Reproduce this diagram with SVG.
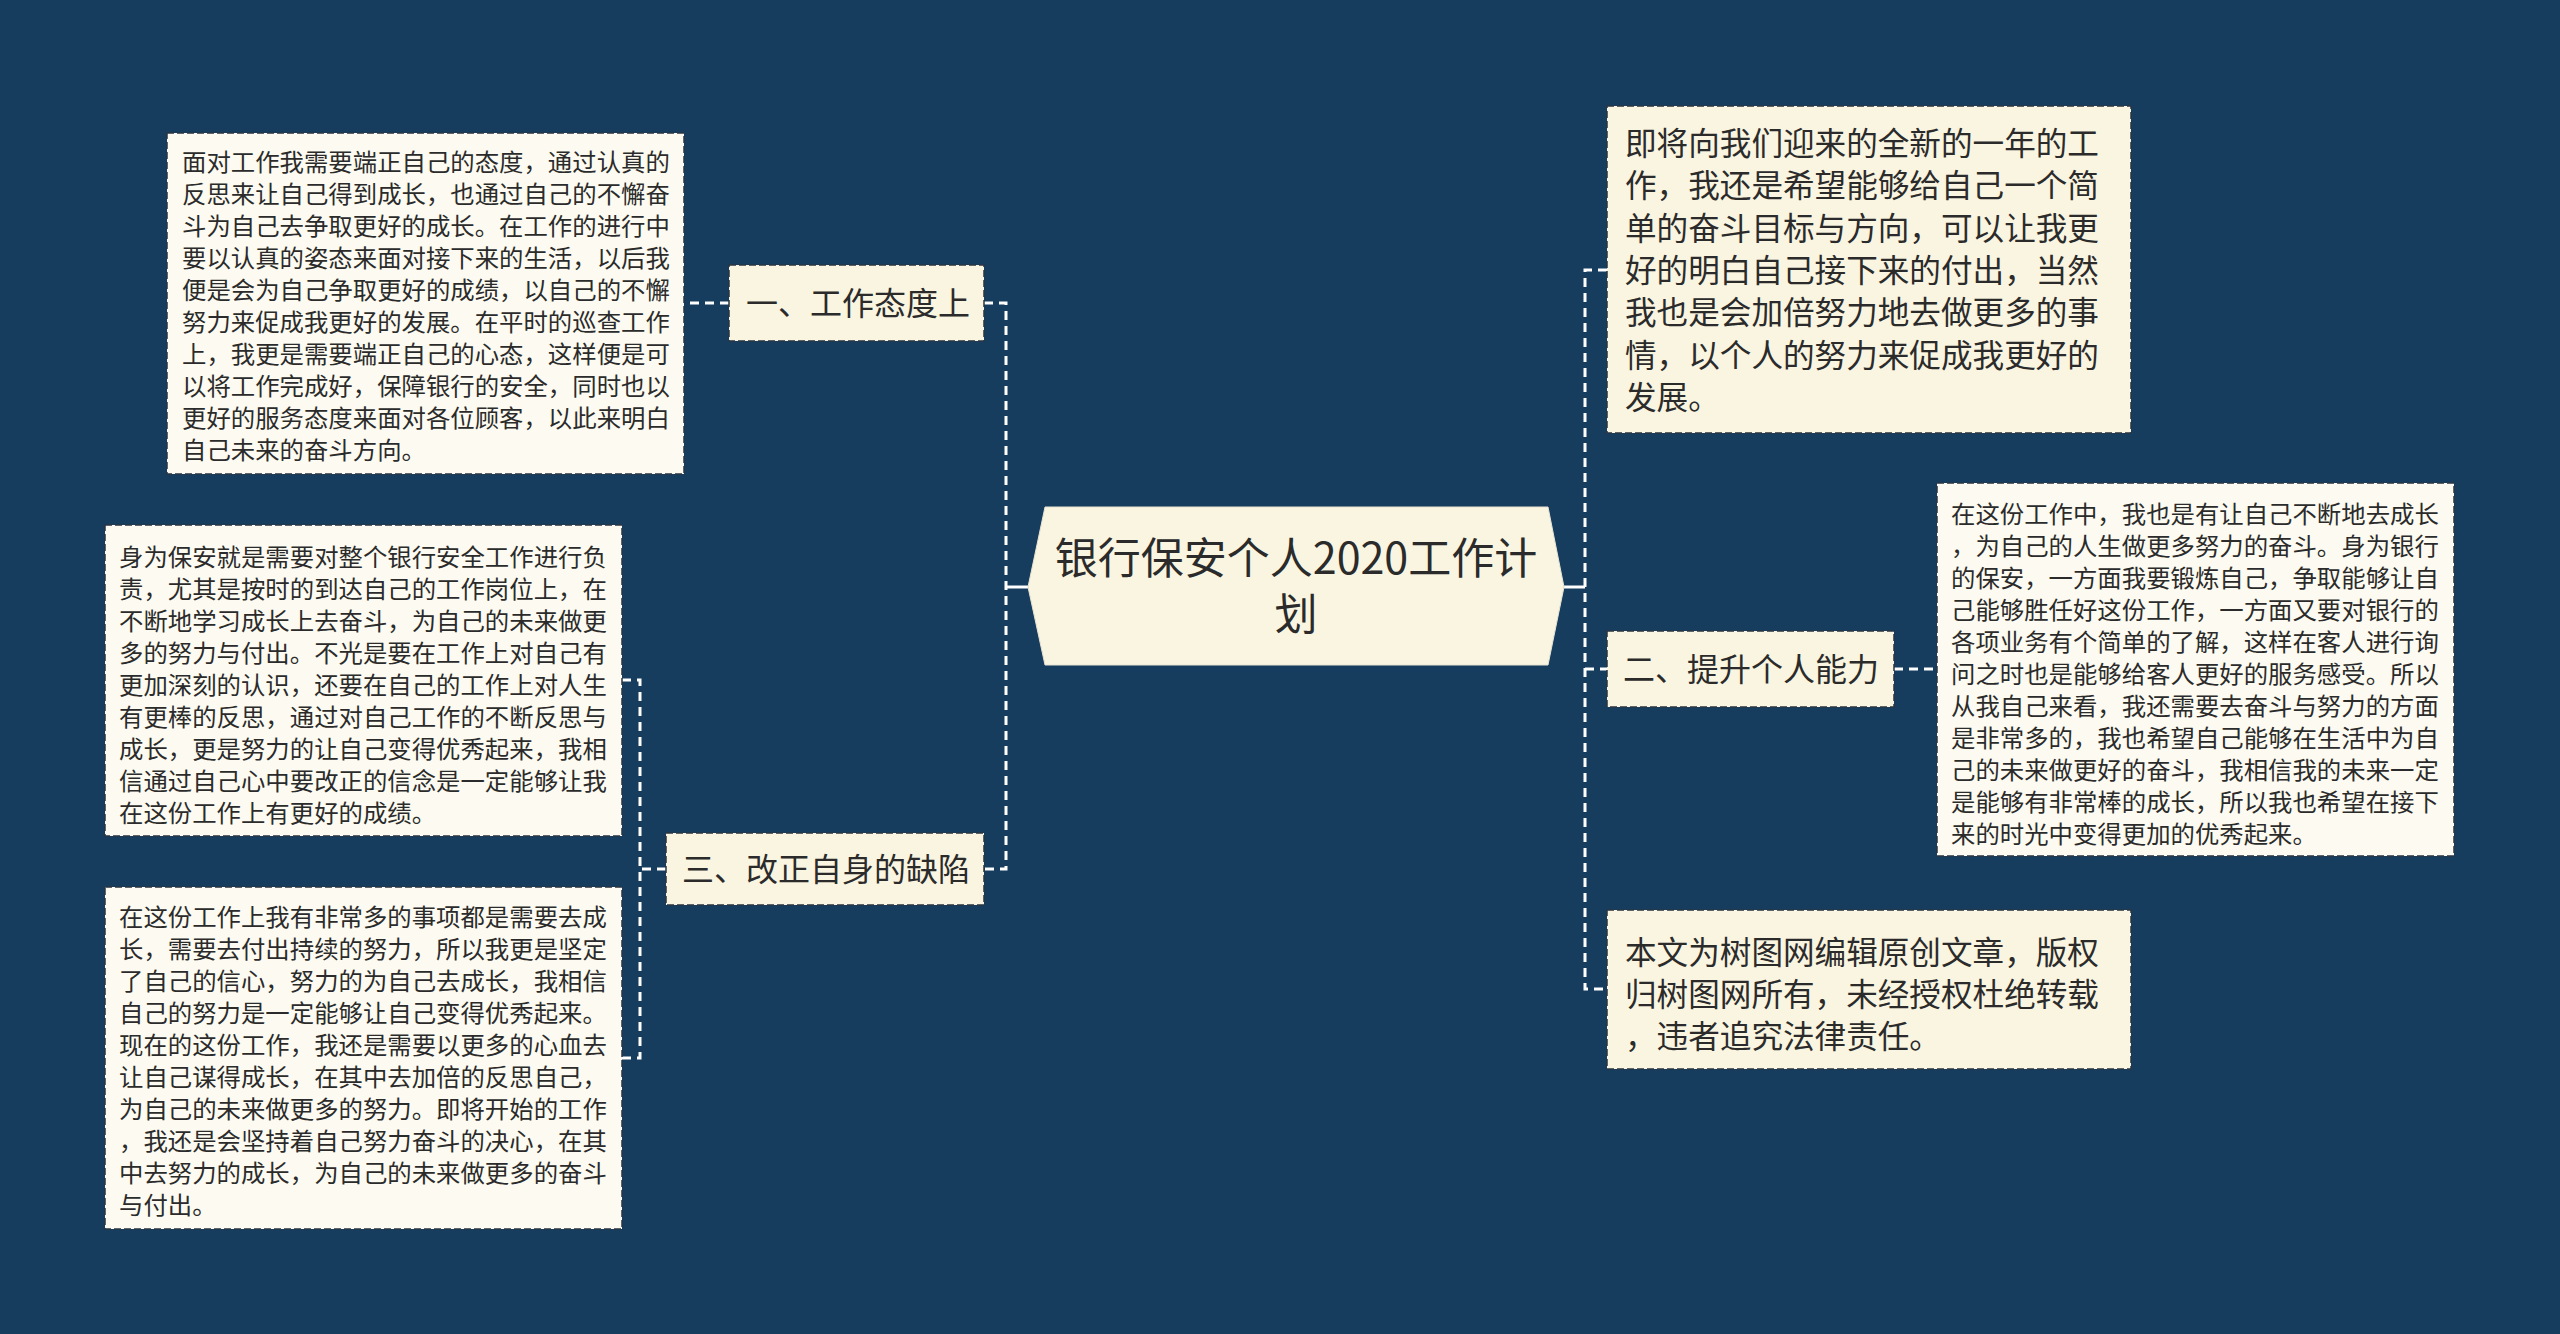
<svg xmlns="http://www.w3.org/2000/svg" width="2560" height="1334" viewBox="0 0 2560 1334">
<style>
.bg{fill:#173D5E}
.box{stroke:#2a3440;stroke-width:1.5;stroke-dasharray:7 3}
.lt{fill:#FDFBF1}
.cr{fill:#FAF5E1}
.t{font-family:"Noto Sans CJK SC","Noto Sans",sans-serif;fill:#2b2b2b}
.s24{font-size:24.4px}
.s32{font-size:32px}
.s31{font-size:31.6px}
.s42{font-size:43px}
.dash{fill:none;stroke:#ffffff;stroke-width:3;stroke-dasharray:9 6}
.solid{fill:none;stroke:#ffffff;stroke-width:3}
</style>
<rect class="bg" x="0" y="0" width="2560" height="1334"/>
<g id="connectors">
<line class="solid" x1="1028" y1="587" x2="1006" y2="587"/>
<path class="dash" d="M984 303 H1006 V869 H984"/>
<line class="dash" x1="729" y1="303" x2="684" y2="303"/>
<line class="dash" x1="666" y1="869" x2="640" y2="869"/>
<path class="dash" d="M622 680 H640 V1058 H622"/>
<line class="solid" x1="1564" y1="587" x2="1585" y2="587"/>
<path class="dash" d="M1607 270 H1585 V989 H1607"/>
<line class="dash" x1="1585" y1="669" x2="1607" y2="669"/>
<line class="dash" x1="1894" y1="669" x2="1937" y2="669"/>
</g>
<g id="root">
<polygon points="1028,587 1045,507 1548,507 1564,587 1548,665 1045,665" fill="#FAF5E1" stroke="#e8e4d4" stroke-width="1"/>
<text class="t s42" text-anchor="middle"><tspan x="1296" y="574">银行保安个人2020工作计</tspan><tspan x="1296" y="630">划</tspan></text>
</g>
<g id="n1">
<rect class="box cr" x="729" y="265" width="255" height="76"/>
<text class="t s32" x="746" y="315">一、工作态度上</text>
</g>
<g id="n1a">
<rect class="box lt" x="167" y="133" width="517" height="341"/>
<text class="t s24"><tspan x="182" y="171">面对工作我需要端正自己的态度，通过认真的</tspan><tspan x="182" dy="32">反思来让自己得到成长，也通过自己的不懈奋</tspan><tspan x="182" dy="32">斗为自己去争取更好的成长。在工作的进行中</tspan><tspan x="182" dy="32">要以认真的姿态来面对接下来的生活，以后我</tspan><tspan x="182" dy="32">便是会为自己争取更好的成绩，以自己的不懈</tspan><tspan x="182" dy="32">努力来促成我更好的发展。在平时的巡查工作</tspan><tspan x="182" dy="32">上，我更是需要端正自己的心态，这样便是可</tspan><tspan x="182" dy="32">以将工作完成好，保障银行的安全，同时也以</tspan><tspan x="182" dy="32">更好的服务态度来面对各位顾客，以此来明白</tspan><tspan x="182" dy="32">自己未来的奋斗方向。</tspan></text>
</g>
<g id="n3">
<rect class="box cr" x="666" y="833" width="318" height="72"/>
<text class="t s32" x="682" y="881">三、改正自身的缺陷</text>
</g>
<g id="n3a">
<rect class="box lt" x="105" y="525" width="517" height="311"/>
<text class="t s24"><tspan x="119" y="566">身为保安就是需要对整个银行安全工作进行负</tspan><tspan x="119" dy="32">责，尤其是按时的到达自己的工作岗位上，在</tspan><tspan x="119" dy="32">不断地学习成长上去奋斗，为自己的未来做更</tspan><tspan x="119" dy="32">多的努力与付出。不光是要在工作上对自己有</tspan><tspan x="119" dy="32">更加深刻的认识，还要在自己的工作上对人生</tspan><tspan x="119" dy="32">有更棒的反思，通过对自己工作的不断反思与</tspan><tspan x="119" dy="32">成长，更是努力的让自己变得优秀起来，我相</tspan><tspan x="119" dy="32">信通过自己心中要改正的信念是一定能够让我</tspan><tspan x="119" dy="32">在这份工作上有更好的成绩。</tspan></text>
</g>
<g id="n3b">
<rect class="box lt" x="105" y="887" width="517" height="342"/>
<text class="t s24"><tspan x="119" y="926">在这份工作上我有非常多的事项都是需要去成</tspan><tspan x="119" dy="32">长，需要去付出持续的努力，所以我更是坚定</tspan><tspan x="119" dy="32">了自己的信心，努力的为自己去成长，我相信</tspan><tspan x="119" dy="32">自己的努力是一定能够让自己变得优秀起来。</tspan><tspan x="119" dy="32">现在的这份工作，我还是需要以更多的心血去</tspan><tspan x="119" dy="32">让自己谋得成长，在其中去加倍的反思自己，</tspan><tspan x="119" dy="32">为自己的未来做更多的努力。即将开始的工作</tspan><tspan x="119" dy="32">，我还是会坚持着自己努力奋斗的决心，在其</tspan><tspan x="119" dy="32">中去努力的成长，为自己的未来做更多的奋斗</tspan><tspan x="119" dy="32">与付出。</tspan></text>
</g>
<g id="n4">
<rect class="box cr" x="1607" y="106" width="524" height="327"/>
<text class="t s31"><tspan x="1625" y="155">即将向我们迎来的全新的一年的工</tspan><tspan x="1625" dy="42.3">作，我还是希望能够给自己一个简</tspan><tspan x="1625" dy="42.3">单的奋斗目标与方向，可以让我更</tspan><tspan x="1625" dy="42.3">好的明白自己接下来的付出，当然</tspan><tspan x="1625" dy="42.3">我也是会加倍努力地去做更多的事</tspan><tspan x="1625" dy="42.3">情，以个人的努力来促成我更好的</tspan><tspan x="1625" dy="42.3">发展。</tspan></text>
</g>
<g id="n2">
<rect class="box cr" x="1607" y="631" width="287" height="76"/>
<text class="t s32" x="1623" y="681">二、提升个人能力</text>
</g>
<g id="n2a">
<rect class="box lt" x="1937" y="483" width="517" height="373"/>
<text class="t s24"><tspan x="1951" y="523">在这份工作中，我也是有让自己不断地去成长</tspan><tspan x="1951" dy="32">，为自己的人生做更多努力的奋斗。身为银行</tspan><tspan x="1951" dy="32">的保安，一方面我要锻炼自己，争取能够让自</tspan><tspan x="1951" dy="32">己能够胜任好这份工作，一方面又要对银行的</tspan><tspan x="1951" dy="32">各项业务有个简单的了解，这样在客人进行询</tspan><tspan x="1951" dy="32">问之时也是能够给客人更好的服务感受。所以</tspan><tspan x="1951" dy="32">从我自己来看，我还需要去奋斗与努力的方面</tspan><tspan x="1951" dy="32">是非常多的，我也希望自己能够在生活中为自</tspan><tspan x="1951" dy="32">己的未来做更好的奋斗，我相信我的未来一定</tspan><tspan x="1951" dy="32">是能够有非常棒的成长，所以我也希望在接下</tspan><tspan x="1951" dy="32">来的时光中变得更加的优秀起来。</tspan></text>
</g>
<g id="n5">
<rect class="box cr" x="1607" y="910" width="524" height="159"/>
<text class="t s31"><tspan x="1625" y="964">本文为树图网编辑原创文章，版权</tspan><tspan x="1625" dy="42">归树图网所有，未经授权杜绝转载</tspan><tspan x="1625" dy="42">，违者追究法律责任。</tspan></text>
</g>
</svg>
